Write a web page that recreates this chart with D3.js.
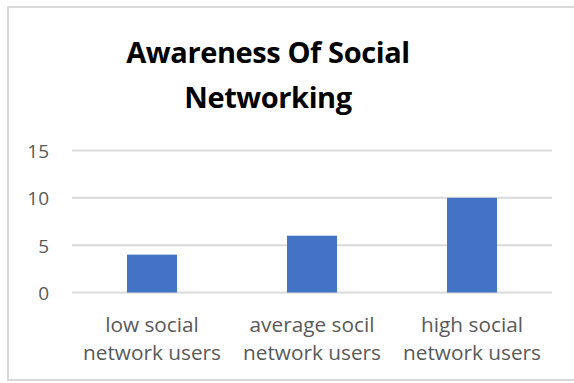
<!DOCTYPE html>
<html>
<head>
<meta charset="utf-8">
<script src="https://cdn.jsdelivr.net/npm/d3@7"></script>
<style>
  html, body { margin: 0; padding: 0; background: #fff; }
  svg { display: block; }
</style>
</head>
<body>
<svg id="chart" width="574" height="383"></svg>
<script>
// Awareness of social networking — respondents per user group
const categories = [
  ["low social", "network users"],
  ["average socil", "network users"],
  ["high social", "network users"]
];
const values = [4, 6, 10];
const yTicks = [0, 5, 10, 15];
const titleLines = ["Awareness Of Social", "Networking"];

const W = 574, H = 383;
const svg = d3.select("#chart");

// chart frame
svg.append("path")
  .attr("d", `M${W + 2},7 L8,7 L8,380 L${W + 2},380`)
  .attr("fill", "none")
  .attr("stroke", "#d9d9d9")
  .attr("stroke-width", 2);

const plot = { left: 72, right: 552, top: 150.5, bottom: 292.5 };

const x = d3.scaleBand()
  .domain(d3.range(categories.length))
  .range([plot.left, plot.right])
  .paddingInner(0.6875)
  .paddingOuter(0.34375);

const y = d3.scaleLinear()
  .domain([0, 15])
  .range([plot.bottom, plot.top]);

// horizontal gridlines
svg.append("g")
  .selectAll("line")
  .data(yTicks)
  .join("line")
  .attr("x1", plot.left)
  .attr("x2", plot.right)
  .attr("y1", d => y(d))
  .attr("y2", d => y(d))
  .attr("stroke", "#d9d9d9")
  .attr("stroke-width", 2);

// y axis labels
const yAxis = d3.axisLeft(y).tickValues(yTicks).tickSize(0).tickPadding(0);
const yG = svg.append("g")
  .attr("transform", `translate(49,0)`)
  .call(yAxis);
yG.select(".domain").remove();
yG.selectAll("text")
  .attr("font-family", "'Open Sans', sans-serif")
  .attr("font-size", 19)
  .attr("fill", "#595959")
  .attr("dy", "0.36em");

// bars
svg.append("g")
  .selectAll("rect")
  .data(values)
  .join("rect")
  .attr("x", (d, i) => x(i))
  .attr("width", x.bandwidth())
  .attr("y", d => y(d))
  .attr("height", d => y(0) - y(d))
  .attr("fill", "#4472c4");

// category labels (two lines)
const xl = svg.append("g")
  .selectAll("text")
  .data(categories)
  .join("text")
  .attr("x", (d, i) => x(i) + x.bandwidth() / 2)
  .attr("y", 332)
  .attr("text-anchor", "middle")
  .attr("font-family", "'Open Sans', sans-serif")
  .attr("font-size", 20.8)
  .attr("fill", "#595959");
xl.selectAll("tspan")
  .data(d => d)
  .join("tspan")
  .attr("x", function () { return this.parentNode.getAttribute("x"); })
  .attr("dy", (d, i) => i === 0 ? 0 : 28)
  .text(d => d);

// title
svg.append("g")
  .selectAll("text")
  .data(titleLines)
  .join("text")
  .attr("x", 268)
  .attr("y", (d, i) => 63 + i * 45)
  .attr("text-anchor", "middle")
  .attr("font-family", "'Open Sans', sans-serif")
  .attr("font-weight", "bold")
  .attr("font-size", 29)
  .attr("letter-spacing", -0.4)
  .attr("fill", "#000")
  .text(d => d);
</script>
</body>
</html>
